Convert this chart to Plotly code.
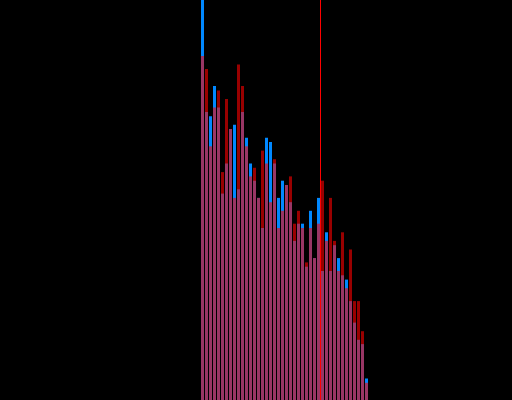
import plotly.graph_objects as go

# Histogram bin index for each bar
bins = list(range(42))

# Counts per bin for the two samples
blue_counts = [100, 67, 66, 73, 68, 48, 55, 63, 64, 49, 67, 61, 55, 51, 47,
               40, 61, 60, 55, 47, 51, 50, 46, 37, 41, 41, 31, 44, 33, 47,
               30, 39, 30, 36, 33, 29, 28, 23, 18, 14, 13, 5]
red_counts = [80, 77, 59, 68, 72, 53, 70, 63, 47, 78, 73, 59, 52, 54, 47,
              58, 55, 46, 56, 40, 44, 50, 52, 41, 44, 40, 32, 40, 33, 41,
              51, 37, 47, 37, 30, 39, 26, 35, 23, 23, 16, 4]

# Cut-off position marked by the vertical line (in bin units)
threshold = 29.5

fig = go.Figure()
fig.add_trace(go.Bar(x=bins, y=blue_counts, width=0.75,
                     marker=dict(color="rgb(0,136,255)", line=dict(width=0)),
                     opacity=1.0))
fig.add_trace(go.Bar(x=bins, y=red_counts, width=0.75,
                     marker=dict(color="rgb(255,0,0)", line=dict(width=0)),
                     opacity=0.6))

fig.add_shape(type="line", xref="x", yref="paper",
              x0=threshold, x1=threshold, y0=0, y1=1,
              line=dict(color="rgb(255,0,0)", width=1), layer="above")

fig.update_layout(
    width=512, height=400,
    margin=dict(l=0, r=0, t=0, b=0),
    paper_bgcolor="black", plot_bgcolor="black",
    barmode="overlay",
    showlegend=False,
    xaxis=dict(range=[-50.625, 77.375], visible=False, showgrid=False,
               zeroline=False),
    yaxis=dict(range=[0, 93.02], visible=False, showgrid=False,
               zeroline=False),
)

fig.write_html("out.html")
